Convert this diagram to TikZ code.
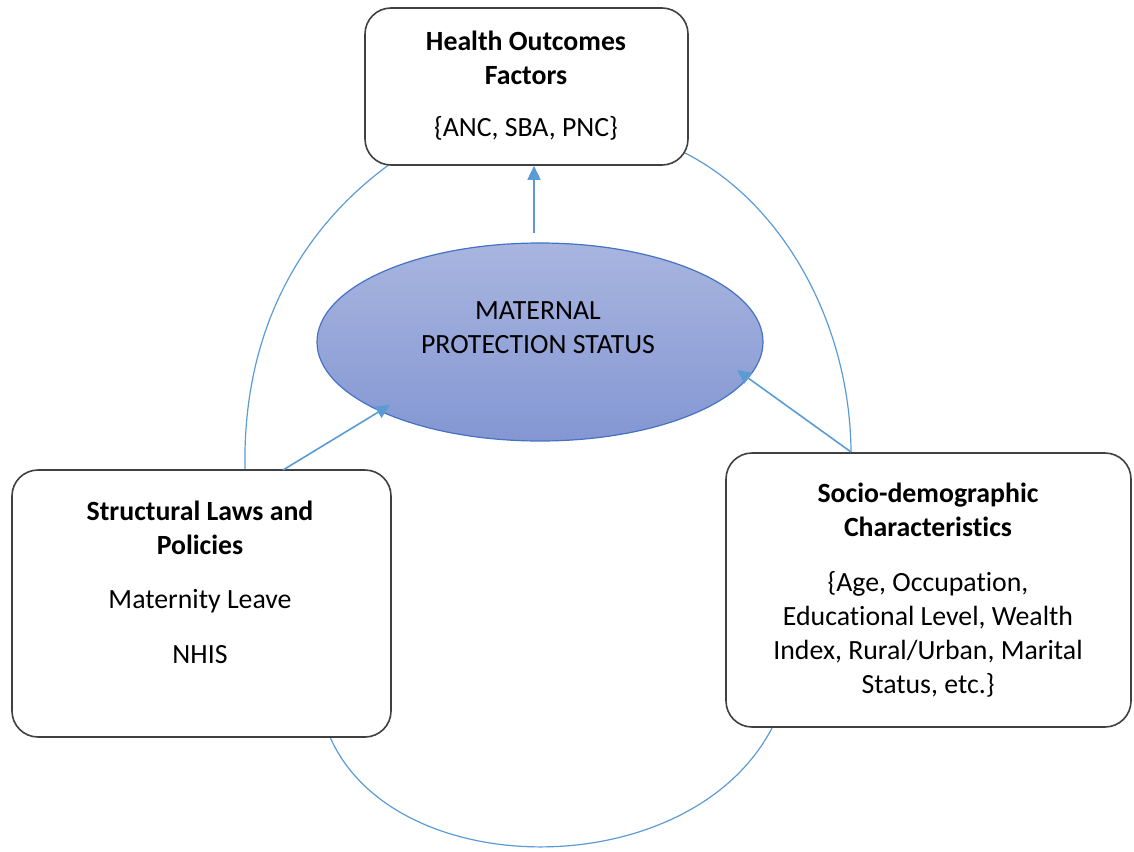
\documentclass[tikz,border=0pt]{standalone}
\usepackage{fontspec}
\setmainfont[Ligatures=NoCommon]{Carlito}
\usetikzlibrary{shapes.geometric,arrows.meta,calc}
\definecolor{boxline}{HTML}{404040}
\definecolor{linkblue}{HTML}{5B9BD5}
\definecolor{ellfilltop}{HTML}{A8B5DF}
\definecolor{ellfillbot}{HTML}{8497D3}
\definecolor{ellline}{HTML}{4472C4}
\tikzset{
  factorbox/.style={draw=boxline, line width=1.6pt, rounded corners=26pt, fill=white},
  hub/.style={ellipse, draw=ellline, line width=1.2pt, top color=ellfilltop, bottom color=ellfillbot},
  label/.style={align=center, font=\fontsize{27.8}{34}\selectfont, inner sep=0pt},
  link/.style={draw=linkblue, line width=1.6pt, -{Triangle[length=14pt,width=13pt]}},
  loop/.style={draw=linkblue, line width=1.2pt},
}
\begin{document}
\begin{tikzpicture}[x=1pt,y=-1pt]
\useasboundingbox (0,0) rectangle (1134,851);

% loop arcs joining the three factor groups
\coordinate (lA) at (245,470);
\coordinate (lB) at (390,164);
\coordinate (rA) at (683,152);
\coordinate (rB) at (851,452);
\coordinate (bA) at (330,737);
\coordinate (bB) at (772,728);
\draw[loop] (lA) .. controls (242,320) and (310,222) .. (lB);
\draw[loop] (rA) .. controls (780,200) and (850,320) .. (rB);
\draw[loop] (bA) .. controls (395,885) and (690,885) .. (bB);

% boxes
\node[factorbox, minimum width=323pt, minimum height=157pt] (ho) at (526.5,86.5) {};
\node[factorbox, minimum width=379pt, minimum height=267pt] (sl) at (201.5,603.5) {};
\node[factorbox, minimum width=405pt, minimum height=274pt] (sd) at (928.5,590) {};
\node[hub, minimum width=446pt, minimum height=198pt] (mp) at (540,342) {};

% texts
\node[label] (hoT) at (526,58) {\bfseries Health Outcomes\\\bfseries Factors};
\node[label] (hoL) at (526,128) {\{ANC, SBA, PNC\}};
\node[label] (mpT) at (538,328) {MATERNAL\\PROTECTION STATUS};
\node[label] (slT) at (200,528) {\bfseries Structural Laws and\\\bfseries Policies};
\node[label] (slL) at (200,627) {Maternity Leave\\[21pt]NHIS};
\node[label] (sdT) at (928,510) {\bfseries Socio-demographic\\\bfseries Characteristics};
\node[label] (sdL) at (928,634) {\{Age, Occupation,\\Educational Level, Wealth\\Index, Rural/Urban, Marital\\Status, etc.\}};

% arrows into the hub and towards outcomes
\coordinate (mpTop) at (534,233);
\draw[link] (mpTop) -- (mpTop |- ho.south);
\coordinate (slOut) at (283,470);
\coordinate (slIn) at (390,405);
\draw[link] (slOut) -- (slIn);
\coordinate (sdOut) at (851,452);
\coordinate (sdIn) at (737,370);
\draw[link] (sdOut) -- (sdIn);
\end{tikzpicture}
\end{document}
